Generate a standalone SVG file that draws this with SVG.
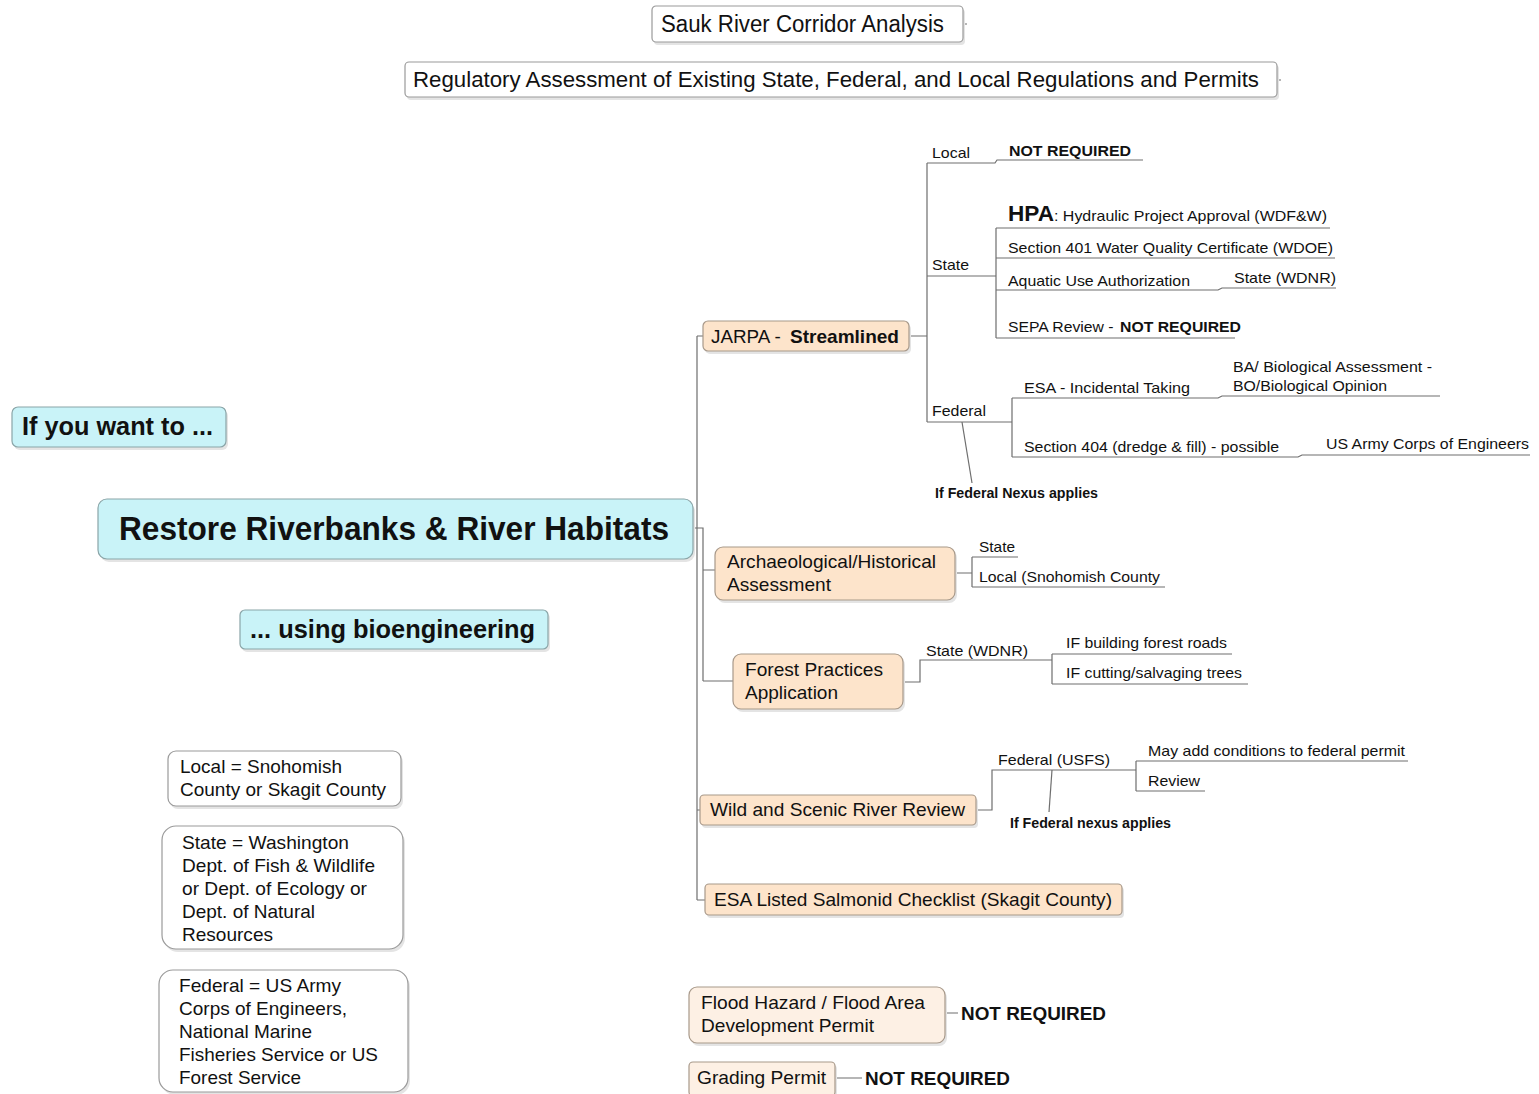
<svg xmlns="http://www.w3.org/2000/svg" width="1539" height="1094" viewBox="0 0 1539 1094">
<style>
text{font-family:"Liberation Sans",Arial,sans-serif;fill:#111}
.b{font-weight:bold}
.s{font-size:15px}
.m{font-size:19px}
.ln{fill:none;stroke:#6e6e6e;stroke-width:1.2}
.box{fill:#fff;stroke:#9a9a9a;stroke-width:1.2}
.peach{fill:#fde4cb;stroke:#a8998a;stroke-width:1.2}
.cyan{fill:#c9f3f8;stroke:#8aa5a8;stroke-width:1.2}
.sh{fill:#e4e4e4}
</style>
<rect width="1539" height="1094" fill="#fff"/>

<g id="connectors">
<path class="ln" d="M963 24H967M1277 80H1281"/>
<!-- trunks -->
<path class="ln" d="M697 336H703M697 336V900M697 810H700M697 900H705"/>
<path class="ln" d="M693 528H703V681M703 570H715M703 681H733"/>
<!-- JARPA -->
<path class="ln" d="M909 336H927M927 163V422M927 163H995L997 160H1143M927 276H996M927 422H1012"/>
<path class="ln" d="M996 228V338M996 228H1330M996 258H1335M996 290H1218L1222 288H1336M996 338H1235"/>
<path class="ln" d="M1012 398V457M1012 398H1218L1222 396H1440M1012 457H1298L1302 455H1530"/>
<path class="ln" d="M962 422L972 483"/>
<!-- Arch -->
<path class="ln" d="M955 573H972M972 557V587M972 557H1018M972 587H1165"/>
<!-- Forest -->
<path class="ln" d="M903 682H920V660H1052M1052 654V684M1052 654H1232M1052 684H1248"/>
<!-- Wild -->
<path class="ln" d="M976 810H992V770H1136M1136 761V791M1136 761H1408M1136 791H1205"/>
<path class="ln" d="M1052 770L1049 812"/>
<!-- Flood / Grading -->
<path class="ln" d="M945 1013H958M835 1078H862"/>
</g>

<g id="title">
<rect class="sh" x="654" y="9" width="311" height="36" rx="4"/>
<rect class="box" x="652" y="6" width="311" height="36" rx="4"/>
<text x="661" y="32" font-size="23" textLength="283" lengthAdjust="spacingAndGlyphs">Sauk River Corridor Analysis</text>
</g>
<g id="subtitle">
<rect class="sh" x="407" y="65" width="872" height="35" rx="4"/>
<rect class="box" x="405" y="62" width="872" height="35" rx="4"/>
<text x="413" y="87" font-size="22" textLength="846" lengthAdjust="spacingAndGlyphs">Regulatory Assessment of Existing State, Federal, and Local Regulations and Permits</text>
</g>

<g id="if-you-want">
<rect class="sh" x="14" y="410" width="214" height="40" rx="6"/>
<rect class="cyan" x="12" y="407" width="214" height="40" rx="6"/>
<text class="b" x="22" y="435" font-size="25" textLength="191" lengthAdjust="spacingAndGlyphs">If you want to ...</text>
</g>
<g id="main">
<rect class="sh" x="100" y="502" width="595" height="60" rx="9"/>
<rect class="cyan" x="98" y="499" width="595" height="60" rx="9"/>
<text class="b" x="119" y="540" font-size="33" textLength="550" lengthAdjust="spacingAndGlyphs">Restore Riverbanks &amp; River Habitats</text>
</g>
<g id="bioengineering">
<rect class="sh" x="242" y="613" width="308" height="39" rx="5"/>
<rect class="cyan" x="240" y="610" width="308" height="39" rx="5"/>
<text class="b" x="250" y="638" font-size="25" textLength="285" lengthAdjust="spacingAndGlyphs">... using bioengineering</text>
</g>

<g id="jarpa">
<rect class="sh" x="705" y="324" width="206" height="30" rx="5"/>
<rect class="peach" x="703" y="321" width="206" height="30" rx="5"/>
<text class="m" x="711" y="343"><tspan textLength="75" lengthAdjust="spacingAndGlyphs">JARPA - </tspan><tspan class="b" x="790" textLength="109" lengthAdjust="spacingAndGlyphs">Streamlined</tspan></text>
</g>
<g id="jarpa-local">
<text class="s" x="932" y="158" textLength="38" lengthAdjust="spacingAndGlyphs">Local</text>
<text class="s b" x="1009" y="156" textLength="122" lengthAdjust="spacingAndGlyphs">NOT REQUIRED</text>
</g>
<g id="jarpa-state">
<text class="s" x="932" y="270" textLength="37" lengthAdjust="spacingAndGlyphs">State</text>
<text x="1008" y="221"><tspan class="b" font-size="22" textLength="46" lengthAdjust="spacingAndGlyphs">HPA</tspan><tspan class="s" x="1054" textLength="273" lengthAdjust="spacingAndGlyphs">: Hydraulic Project Approval (WDF&amp;W)</tspan></text>
<text class="s" x="1008" y="253" textLength="325" lengthAdjust="spacingAndGlyphs">Section 401 Water Quality Certificate (WDOE)</text>
<text class="s" x="1008" y="286" textLength="182" lengthAdjust="spacingAndGlyphs">Aquatic Use Authorization</text>
<text class="s" x="1234" y="283" textLength="102" lengthAdjust="spacingAndGlyphs">State (WDNR)</text>
<text class="s" x="1008" y="332"><tspan textLength="110" lengthAdjust="spacingAndGlyphs">SEPA Review - </tspan><tspan class="b" x="1120" textLength="121" lengthAdjust="spacingAndGlyphs">NOT REQUIRED</tspan></text>
</g>
<g id="jarpa-federal">
<text class="s" x="932" y="416" textLength="54" lengthAdjust="spacingAndGlyphs">Federal</text>
<text class="s" x="1024" y="393" textLength="166" lengthAdjust="spacingAndGlyphs">ESA - Incidental Taking</text>
<text class="s" x="1233" y="372" textLength="199" lengthAdjust="spacingAndGlyphs">BA/ Biological Assessment -</text>
<text class="s" x="1233" y="391" textLength="154" lengthAdjust="spacingAndGlyphs">BO/Biological Opinion</text>
<text class="s" x="1024" y="452" textLength="255" lengthAdjust="spacingAndGlyphs">Section 404 (dredge &amp; fill) - possible</text>
<text class="s" x="1326" y="449" textLength="203" lengthAdjust="spacingAndGlyphs">US Army Corps of Engineers</text>
<text class="b" x="935" y="498" font-size="14" textLength="163" lengthAdjust="spacingAndGlyphs">If Federal Nexus applies</text>
</g>

<g id="arch">
<rect class="sh" x="717" y="550" width="240" height="53" rx="8"/>
<rect class="peach" x="715" y="547" width="240" height="53" rx="8"/>
<text class="m" x="727" y="568" textLength="209" lengthAdjust="spacingAndGlyphs">Archaeological/Historical</text>
<text class="m" x="727" y="591" textLength="104" lengthAdjust="spacingAndGlyphs">Assessment</text>
</g>
<g id="arch-children">
<text class="s" x="979" y="552" textLength="36" lengthAdjust="spacingAndGlyphs">State</text>
<text class="s" x="979" y="582" textLength="181" lengthAdjust="spacingAndGlyphs">Local (Snohomish County</text>
</g>

<g id="forest">
<rect class="sh" x="735" y="657" width="170" height="55" rx="8"/>
<rect class="peach" x="733" y="654" width="170" height="55" rx="8"/>
<text class="m" x="745" y="676" textLength="138" lengthAdjust="spacingAndGlyphs">Forest Practices</text>
<text class="m" x="745" y="699" textLength="93" lengthAdjust="spacingAndGlyphs">Application</text>
</g>
<g id="forest-children">
<text class="s" x="926" y="656" textLength="102" lengthAdjust="spacingAndGlyphs">State (WDNR)</text>
<text class="s" x="1066" y="648" textLength="161" lengthAdjust="spacingAndGlyphs">IF building forest roads</text>
<text class="s" x="1066" y="678" textLength="176" lengthAdjust="spacingAndGlyphs">IF cutting/salvaging trees</text>
</g>

<g id="wild">
<rect class="sh" x="702" y="798" width="276" height="30" rx="4"/>
<rect class="peach" x="700" y="795" width="276" height="30" rx="4"/>
<text class="m" x="710" y="816" textLength="255" lengthAdjust="spacingAndGlyphs">Wild and Scenic River Review</text>
</g>
<g id="wild-children">
<text class="s" x="998" y="765" textLength="112" lengthAdjust="spacingAndGlyphs">Federal (USFS)</text>
<text class="s" x="1148" y="756" textLength="257" lengthAdjust="spacingAndGlyphs">May add conditions to federal permit</text>
<text class="s" x="1148" y="786" textLength="52" lengthAdjust="spacingAndGlyphs">Review</text>
<text class="b" x="1010" y="828" font-size="14" textLength="161" lengthAdjust="spacingAndGlyphs">If Federal nexus applies</text>
</g>

<g id="esa-listed">
<rect class="sh" x="707" y="887" width="417" height="31" rx="4"/>
<rect class="peach" x="705" y="884" width="417" height="31" rx="4"/>
<text class="m" x="714" y="906" textLength="398" lengthAdjust="spacingAndGlyphs">ESA Listed Salmonid Checklist (Skagit County)</text>
</g>

<g id="flood">
<rect class="sh" x="691" y="990" width="256" height="56" rx="8"/>
<rect class="peach" x="689" y="987" width="256" height="56" rx="8" style="fill:#fdf0e4"/>
<text class="m" x="701" y="1009" textLength="224" lengthAdjust="spacingAndGlyphs">Flood Hazard / Flood Area</text>
<text class="m" x="701" y="1032" textLength="173" lengthAdjust="spacingAndGlyphs">Development Permit</text>
<text class="b" x="961" y="1020" font-size="19" textLength="145" lengthAdjust="spacingAndGlyphs">NOT REQUIRED</text>
</g>
<g id="grading">
<rect class="sh" x="691" y="1065" width="146" height="32" rx="4"/>
<rect class="peach" x="689" y="1062" width="146" height="34" rx="4" style="fill:#fdf0e4"/>
<text class="m" x="697" y="1084" textLength="129" lengthAdjust="spacingAndGlyphs">Grading Permit</text>
<text class="b" x="865" y="1085" font-size="19" textLength="145" lengthAdjust="spacingAndGlyphs">NOT REQUIRED</text>
</g>

<g id="legend-local">
<rect class="sh" x="170" y="754" width="233" height="55" rx="8"/>
<rect class="box" x="168" y="751" width="233" height="55" rx="8"/>
<text class="m" x="180" y="773" textLength="162" lengthAdjust="spacingAndGlyphs">Local = Snohomish</text>
<text class="m" x="180" y="796" textLength="206" lengthAdjust="spacingAndGlyphs">County or Skagit County</text>
</g>
<g id="legend-state">
<rect class="sh" x="164" y="829" width="241" height="123" rx="14"/>
<rect class="box" x="162" y="826" width="241" height="123" rx="14"/>
<text class="m" x="182" y="849" textLength="167" lengthAdjust="spacingAndGlyphs">State = Washington</text>
<text class="m" x="182" y="872" textLength="193" lengthAdjust="spacingAndGlyphs">Dept. of Fish &amp; Wildlife</text>
<text class="m" x="182" y="895" textLength="185" lengthAdjust="spacingAndGlyphs">or Dept. of Ecology or</text>
<text class="m" x="182" y="918" textLength="133" lengthAdjust="spacingAndGlyphs">Dept. of Natural</text>
<text class="m" x="182" y="941" textLength="91" lengthAdjust="spacingAndGlyphs">Resources</text>
</g>
<g id="legend-federal">
<rect class="sh" x="161" y="973" width="249" height="122" rx="14"/>
<rect class="box" x="159" y="970" width="249" height="122" rx="14"/>
<text class="m" x="179" y="992" textLength="162" lengthAdjust="spacingAndGlyphs">Federal = US Army</text>
<text class="m" x="179" y="1015" textLength="168" lengthAdjust="spacingAndGlyphs">Corps of Engineers,</text>
<text class="m" x="179" y="1038" textLength="133" lengthAdjust="spacingAndGlyphs">National Marine</text>
<text class="m" x="179" y="1061" textLength="199" lengthAdjust="spacingAndGlyphs">Fisheries Service or US</text>
<text class="m" x="179" y="1084" textLength="122" lengthAdjust="spacingAndGlyphs">Forest Service</text>
</g>
</svg>
